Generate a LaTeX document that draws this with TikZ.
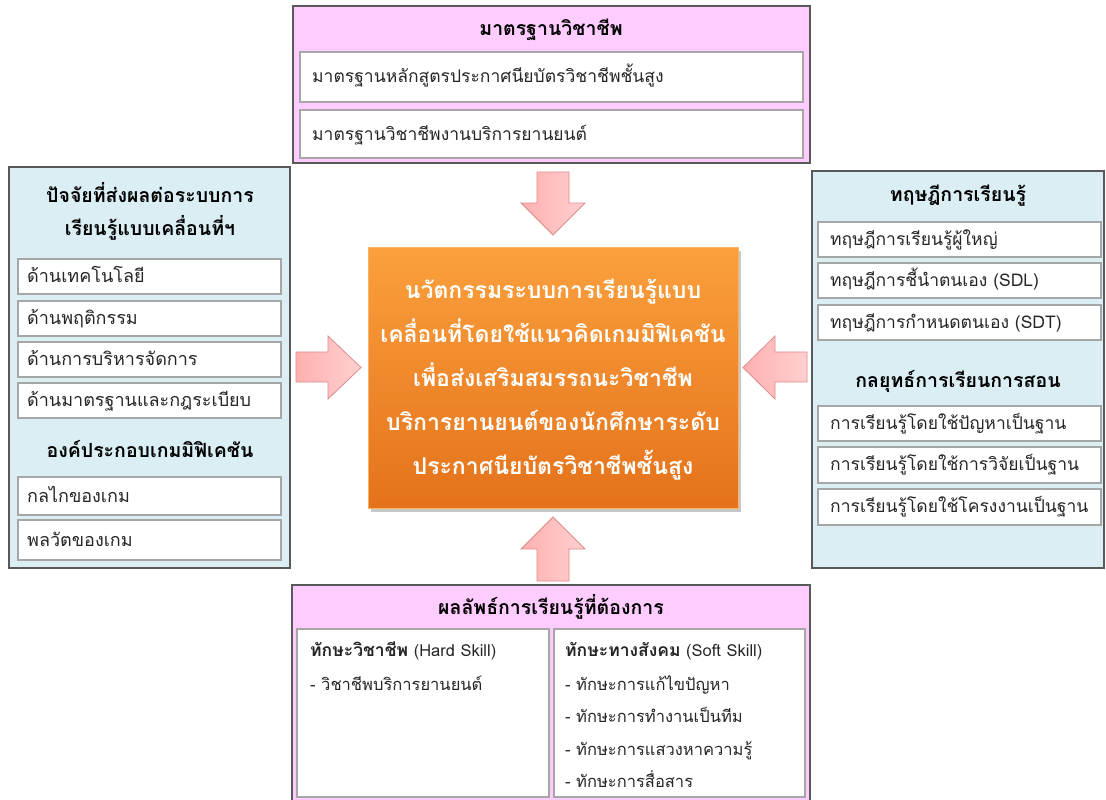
\documentclass[tikz,border=0pt]{standalone}
\usepackage{fontspec}
\newfontfamily\thai[Script=Thai]{Loma}
\definecolor{pinkbg}{HTML}{FFCCFF}
\definecolor{bluebg}{HTML}{DAEEF3}
\definecolor{outerline}{HTML}{595959}
\definecolor{innerline}{HTML}{A6A6A6}
\definecolor{orangetop}{HTML}{FBA03D}
\definecolor{orangebot}{HTML}{E4721B}
\definecolor{arrowline}{HTML}{E08A8A}
\definecolor{arrowA}{HTML}{FFB0B0}
\definecolor{arrowB}{HTML}{FFD0D0}
\begin{document}
\begin{tikzpicture}[x=1pt,y=-1pt,
  pinkbox/.style={draw=outerline, fill=pinkbg, line width=1.2pt},
  bluebox/.style={draw=outerline, fill=bluebg, line width=1.2pt},
  innerbox/.style={draw=innerline, fill=white, line width=2.5pt},
  bodytxt/.style={anchor=base west, inner sep=0pt, font=\thai\fontsize{17.5}{20}\selectfont, text=black!85},
  lefttxt/.style={bodytxt, font=\thai\fontsize{18}{20}\selectfont},
  bottxt/.style={bodytxt, font=\thai\fontsize{16.5}{20}\selectfont},
  titletxt/.style={inner sep=0pt, align=center, font=\thai\bfseries\fontsize{19.5}{33}\selectfont},
  blockarrow/.style={draw=arrowline, line width=0.8pt, left color=arrowA, right color=arrowB},
]
\useasboundingbox (0,0) rectangle (1106,800);
\fill[white] (0,0) rectangle (1106,800);

% ---- top box
\draw[pinkbox] (293,6) rectangle (810,163);
\node[titletxt] (ttitle) at (551,30) {มาตรฐานวิชาชีพ};
\draw[innerbox] (300,52) rectangle (803,102);
\node[bodytxt] (t1) at (312,83) {มาตรฐานหลักสูตรประกาศนียบัตรวิชาชีพชั้นสูง};
\draw[innerbox] (300,110) rectangle (803,158);
\node[bodytxt] (t2) at (312,140) {มาตรฐานวิชาชีพงานบริการยานยนต์};

% ---- left box
\draw[bluebox] (9,167) rectangle (290,568);
\node[titletxt] (ltitle) at (150,211) {ปัจจัยที่ส่งผลต่อระบบการ\\เรียนรู้แบบเคลื่อนที่ฯ};
\draw[innerbox] (18,259) rectangle (281,294);
\node[lefttxt] (l1) at (27,282) {ด้านเทคโนโลยี};
\draw[innerbox] (18,301) rectangle (281,336);
\node[lefttxt] (l2) at (27,324) {ด้านพฤติกรรม};
\draw[innerbox] (18,342) rectangle (281,377);
\node[lefttxt] (l3) at (27,365) {ด้านการบริหารจัดการ};
\draw[innerbox] (18,383) rectangle (281,418);
\node[lefttxt] (l4) at (27,406) {ด้านมาตรฐานและกฎระเบียบ};
\node[titletxt] (lsub) at (150,449) {องค์ประกอบเกมมิฟิเคชัน};
\draw[innerbox] (18,477) rectangle (281,515);
\node[lefttxt] (l5) at (27,502) {กลไกของเกม};
\draw[innerbox] (18,520) rectangle (281,560);
\node[lefttxt] (l6) at (27,546) {พลวัตของเกม};

% ---- right box
\draw[bluebox] (812,171) rectangle (1104,568);
\node[titletxt] (rtitle) at (958,196) {ทฤษฎีการเรียนรู้};
\draw[innerbox] (818,222) rectangle (1101,257);
\node[bodytxt] (r1) at (830,245) {ทฤษฎีการเรียนรู้ผู้ใหญ่};
\draw[innerbox] (818,263) rectangle (1101,298);
\node[bodytxt] (r2) at (830,286) {ทฤษฎีการชี้นำตนเอง (SDL)};
\draw[innerbox] (818,305) rectangle (1101,340);
\node[bodytxt] (r3) at (830,328) {ทฤษฎีการกำหนดตนเอง (SDT)};
\node[titletxt] (rsub) at (958,381) {กลยุทธ์การเรียนการสอน};
\draw[innerbox] (818,406) rectangle (1101,441);
\node[bodytxt] (r4) at (830,429) {การเรียนรู้โดยใช้ปัญหาเป็นฐาน};
\draw[innerbox] (818,447) rectangle (1101,483);
\node[bodytxt] (r5) at (830,470.5) {การเรียนรู้โดยใช้การวิจัยเป็นฐาน};
\draw[innerbox] (818,489) rectangle (1101,525);
\node[bodytxt] (r6) at (830,512.5) {การเรียนรู้โดยใช้โครงงานเป็นฐาน};

% ---- bottom box
\draw[pinkbox] (292,585) rectangle (810,803);
\node[titletxt] (btitle) at (551,607) {ผลลัพธ์การเรียนรู้ที่ต้องการ};
\draw[innerbox] (297,629) rectangle (549,797);
\draw[innerbox] (554,629) rectangle (805,797);
\node[bottxt] (bh) at (310,656) {{\bfseries\fontsize{17.5}{20}\selectfont ทักษะวิชาชีพ} (Hard Skill)};
\node[bottxt] (bh1) at (310,690) {- วิชาชีพบริการยานยนต์};
\node[bottxt] (bs) at (565,656) {{\bfseries\fontsize{17.5}{20}\selectfont ทักษะทางสังคม} (Soft Skill)};
\node[bottxt] (bs1) at (565,690) {- ทักษะการแก้ไขปัญหา};
\node[bottxt] (bs2) at (565,722) {- ทักษะการทำงานเป็นทีม};
\node[bottxt] (bs3) at (565,755) {- ทักษะการแสวงหาความรู้};
\node[bottxt] (bs4) at (565,787) {- ทักษะการสื่อสาร};

% ---- centre box
\fill[black!22] (371,251) rectangle (741,512);
\shade[top color=orangetop, bottom color=orangebot, draw=orangetop!80!white, line width=0.8pt] (368,247) rectangle (738,508);
\node[inner sep=0pt, align=center, text=white, font=\thai\bfseries\fontsize{23}{44}\selectfont] (centre) at (553,380)
  {นวัตกรรมระบบการเรียนรู้แบบ\\เคลื่อนที่โดยใช้แนวคิดเกมมิฟิเคชัน\\เพื่อส่งเสริมสมรรถนะวิชาชีพ\\บริการยานยนต์ของนักศึกษาระดับ\\ประกาศนียบัตรวิชาชีพชั้นสูง};

% ---- block arrows
\draw[blockarrow] (537,172) -- (569,172) -- (569,203) -- (585,203) -- (553,235) -- (521,203) -- (537,203) -- cycle;
\draw[blockarrow] (537,581) -- (569,581) -- (569,549) -- (585,549) -- (553,517) -- (521,549) -- (537,549) -- cycle;
\draw[blockarrow] (296,352) -- (328,352) -- (328,336) -- (361,367.5) -- (328,399) -- (328,382) -- (296,382) -- cycle;
\draw[blockarrow] (807,352) -- (775,352) -- (775,336) -- (743,367.5) -- (775,399) -- (775,382) -- (807,382) -- cycle;
\end{tikzpicture}
\end{document}
